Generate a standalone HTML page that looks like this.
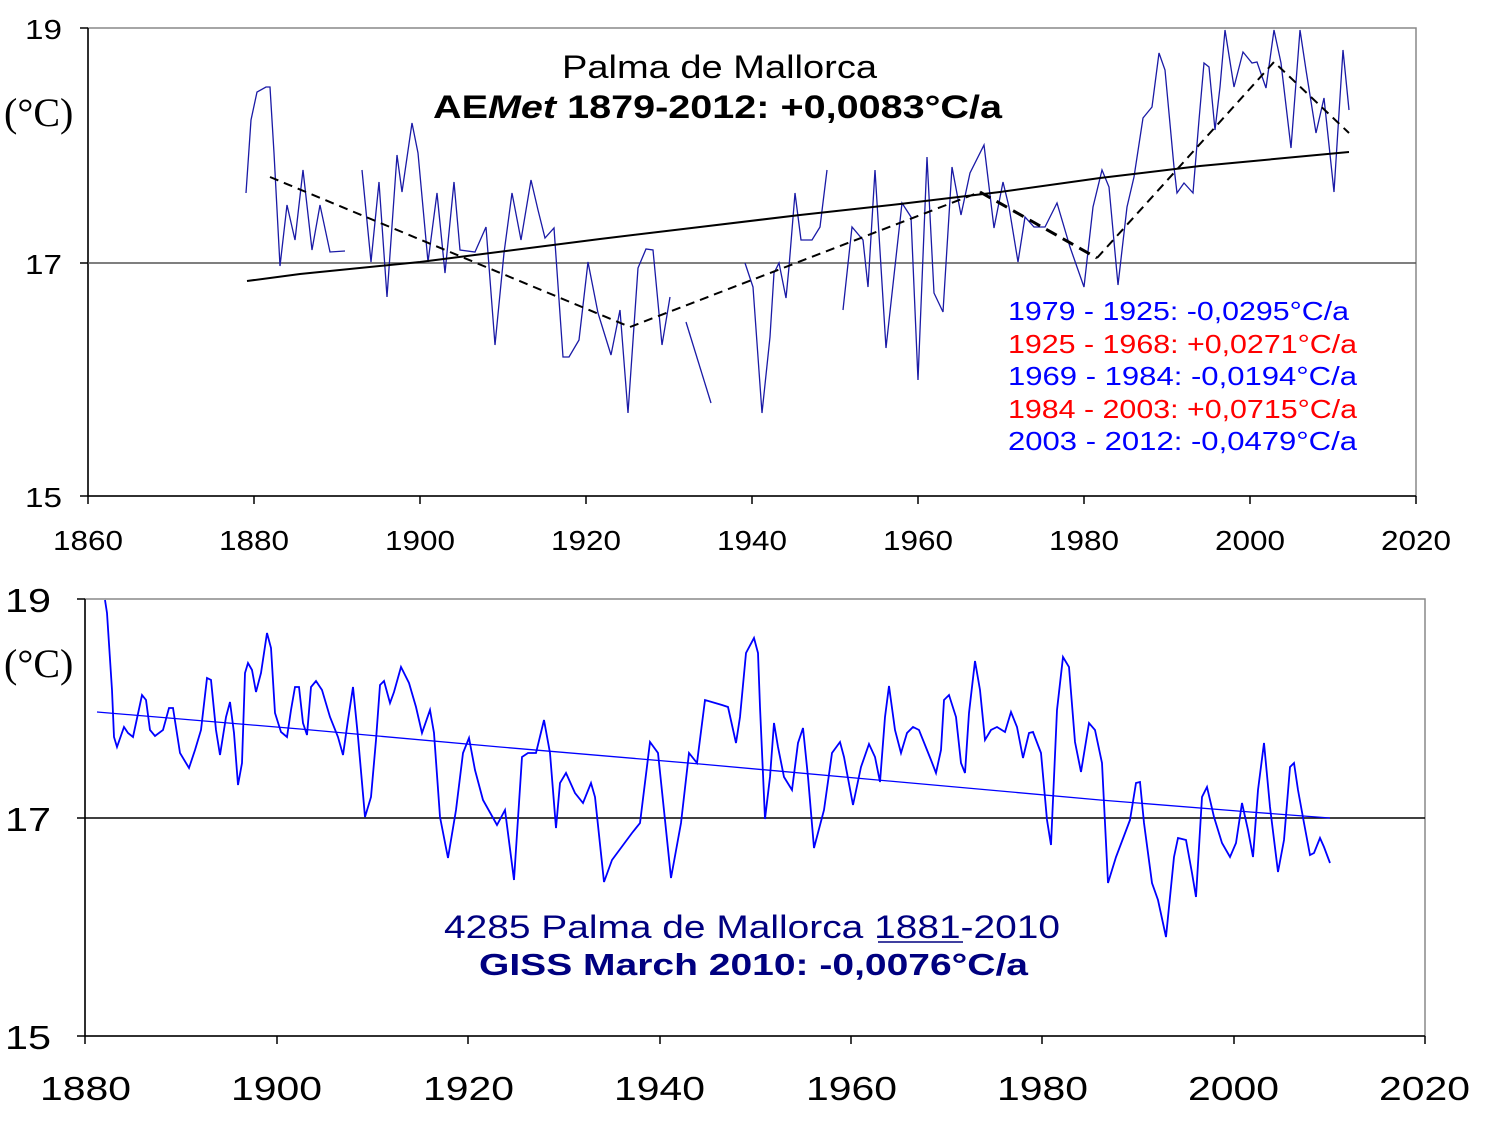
<!DOCTYPE html>
<html><head><meta charset="utf-8"><style>
html,body{margin:0;padding:0;background:#fff}
svg{display:block}
text{font-family:"Liberation Sans",sans-serif}
</style></head><body>
<svg width="1486" height="1125" viewBox="0 0 1486 1125" xmlns="http://www.w3.org/2000/svg">
<!-- TOP CHART -->
<rect x="88" y="28" width="1328" height="468" fill="none" stroke="#888" stroke-width="1.5"/>
<line x1="88" y1="28" x2="88" y2="496" stroke="#000" stroke-width="1.5"/>
<line x1="88" y1="496" x2="1416" y2="496" stroke="#000" stroke-width="1.5"/>
<line x1="88" y1="263" x2="1416" y2="263" stroke="#555" stroke-width="1.5"/>
<g stroke="#000" stroke-width="1.5">
<line x1="80" y1="28" x2="88" y2="28"/><line x1="80" y1="263" x2="88" y2="263"/><line x1="80" y1="496" x2="88" y2="496"/>
<line x1="88" y1="496" x2="88" y2="504"/><line x1="254" y1="496" x2="254" y2="504"/><line x1="420" y1="496" x2="420" y2="504"/><line x1="586" y1="496" x2="586" y2="504"/><line x1="752" y1="496" x2="752" y2="504"/><line x1="918" y1="496" x2="918" y2="504"/><line x1="1084" y1="496" x2="1084" y2="504"/><line x1="1250" y1="496" x2="1250" y2="504"/><line x1="1416" y1="496" x2="1416" y2="504"/>
</g>
<g font-size="28" lengthAdjust="spacingAndGlyphs">
<text x="25" y="39" textLength="37" lengthAdjust="spacingAndGlyphs">19</text>
<text x="25" y="274" textLength="37" lengthAdjust="spacingAndGlyphs">17</text>
<text x="25" y="507" textLength="37" lengthAdjust="spacingAndGlyphs">15</text></g>
<text x="4" y="126" font-size="40" style="font-family:'Liberation Serif',serif">(°C)</text>
<g font-size="28">
<text x="53" y="550" textLength="70" lengthAdjust="spacingAndGlyphs">1860</text>
<text x="219" y="550" textLength="70" lengthAdjust="spacingAndGlyphs">1880</text>
<text x="385" y="550" textLength="70" lengthAdjust="spacingAndGlyphs">1900</text>
<text x="551" y="550" textLength="70" lengthAdjust="spacingAndGlyphs">1920</text>
<text x="717" y="550" textLength="70" lengthAdjust="spacingAndGlyphs">1940</text>
<text x="883" y="550" textLength="70" lengthAdjust="spacingAndGlyphs">1960</text>
<text x="1049" y="550" textLength="70" lengthAdjust="spacingAndGlyphs">1980</text>
<text x="1215" y="550" textLength="70" lengthAdjust="spacingAndGlyphs">2000</text>
<text x="1381" y="550" textLength="70" lengthAdjust="spacingAndGlyphs">2020</text></g>
<g fill="none" stroke="#1a1aa6" stroke-width="1.3">
<polyline points="246,193 251,120 257,92 266,87 270,87 274,153 280,266 287,205 295,240 303,170 312,250 320,205 330,252 345,251"/>
<polyline points="362,170 371,262 379,182 387,297 397,155 402,192 412,123 418,153 428,262 437,193 445,273 454,182 460,250 475,252 486,227 495,345 504,253 512,193 521,240 531,180 538,210 545,238 554,228 563,357 569,357 579,340 588,262 598,313 611,355 620,310 628,413 638,268 646,249 653,250 662,345 670,297"/>
<polyline points="686,322 711,403"/>
<polyline points="745,263 753,287 762,413 770,337 774,273 779,263 786,298 789,267 795,193 801,240 812,240 820,227 827,170"/>
<polyline points="843,310 852,227 863,240 868,287 875,170 886,348 902,203 911,217 918,380 927,157 934,293 943,312 952,167 961,215 970,173 984,145 994,228 1003,182 1009,207 1018,262 1025,217 1034,227 1045,227 1057,203 1070,247 1084,287 1093,207 1102,170 1109,187 1118,285 1127,207 1134,177 1143,118 1152,107 1159,53 1165,70 1174,167 1177,193 1184,183 1193,193 1199,120 1204,63 1209,67 1215,130 1220,87 1225,30 1234,87 1243,52 1252,63 1257,62 1266,88 1274,30 1281,63 1291,148 1300,30 1306,70 1316,133 1324,98 1334,192 1343,50 1349,110"/>
</g>
<polyline points="247,281 300,274 420,262 600,239 700,227 800,215 900,204 1000,192 1100,178 1200,166 1349,152" fill="none" stroke="#000" stroke-width="2"/>
<polyline points="270,177 630,327 980,192" fill="none" stroke="#000" stroke-width="2" stroke-dasharray="9,6"/>
<polyline points="980,192 1097,258" fill="none" stroke="#000" stroke-width="3" stroke-dasharray="12,7"/>
<polyline points="1097,258 1274,62 1349,133" fill="none" stroke="#000" stroke-width="2" stroke-dasharray="9,6"/>
<text x="562" y="78" font-size="32" textLength="315" lengthAdjust="spacingAndGlyphs">Palma de Mallorca</text>
<text x="433" y="118" font-size="32" font-weight="bold" textLength="569" lengthAdjust="spacingAndGlyphs">AE<tspan font-style="italic">Met</tspan>  1879-2012: +0,0083°C/a</text>
<g font-size="26">
<text x="1008" y="320" fill="#0000ff" textLength="341" lengthAdjust="spacingAndGlyphs">1979 - 1925: -0,0295°C/a</text>
<text x="1008" y="353" fill="#ff0000" textLength="349" lengthAdjust="spacingAndGlyphs">1925 - 1968: +0,0271°C/a</text>
<text x="1008" y="385" fill="#0000ff" textLength="349" lengthAdjust="spacingAndGlyphs">1969 - 1984:  -0,0194°C/a</text>
<text x="1008" y="418" fill="#ff0000" textLength="349" lengthAdjust="spacingAndGlyphs">1984 - 2003: +0,0715°C/a</text>
<text x="1008" y="450" fill="#0000ff" textLength="349" lengthAdjust="spacingAndGlyphs">2003 - 2012:  -0,0479°C/a</text>
</g>
<!-- BOTTOM CHART -->
<rect x="85" y="599" width="1340" height="437" fill="none" stroke="#888" stroke-width="1.5"/>
<line x1="85" y1="599" x2="85" y2="1036" stroke="#000" stroke-width="1.5"/>
<line x1="85" y1="1036" x2="1425" y2="1036" stroke="#000" stroke-width="1.5"/>
<line x1="85" y1="818" x2="1425" y2="818" stroke="#000" stroke-width="1.5"/>
<g stroke="#000" stroke-width="1.5">
<line x1="77" y1="599" x2="85" y2="599"/><line x1="77" y1="818" x2="85" y2="818"/><line x1="77" y1="1036" x2="85" y2="1036"/>
<line x1="85" y1="1036" x2="85" y2="1044"/><line x1="277" y1="1036" x2="277" y2="1044"/><line x1="468" y1="1036" x2="468" y2="1044"/><line x1="660" y1="1036" x2="660" y2="1044"/><line x1="851" y1="1036" x2="851" y2="1044"/><line x1="1042" y1="1036" x2="1042" y2="1044"/><line x1="1234" y1="1036" x2="1234" y2="1044"/><line x1="1425" y1="1036" x2="1425" y2="1044"/>
</g>
<g font-size="33">
<text x="5" y="612" textLength="46" lengthAdjust="spacingAndGlyphs">19</text>
<text x="5" y="831" textLength="46" lengthAdjust="spacingAndGlyphs">17</text>
<text x="5" y="1049" textLength="46" lengthAdjust="spacingAndGlyphs">15</text></g>
<text x="4" y="677" font-size="40" style="font-family:'Liberation Serif',serif">(°C)</text>
<g font-size="33">
<text x="40" y="1100" textLength="91" lengthAdjust="spacingAndGlyphs">1880</text>
<text x="231" y="1100" textLength="91" lengthAdjust="spacingAndGlyphs">1900</text>
<text x="423" y="1100" textLength="91" lengthAdjust="spacingAndGlyphs">1920</text>
<text x="614" y="1100" textLength="91" lengthAdjust="spacingAndGlyphs">1940</text>
<text x="806" y="1100" textLength="91" lengthAdjust="spacingAndGlyphs">1960</text>
<text x="997" y="1100" textLength="91" lengthAdjust="spacingAndGlyphs">1980</text>
<text x="1188" y="1100" textLength="91" lengthAdjust="spacingAndGlyphs">2000</text>
<text x="1379" y="1100" textLength="91" lengthAdjust="spacingAndGlyphs">2020</text></g>
<polyline points="97,712 300,729 500,747 700,764 900,782 1100,800 1250,812 1330,818" fill="none" stroke="#0000ff" stroke-width="1.3"/>
<polyline fill="none" stroke="#0000ff" stroke-width="1.8" points="105,600 107,613 112,690 114,737 117,747 124,727 128,733 133,737 136,723 142,695 146,700 150,730 155,736 163,730 169,708 173,708 180,753 189,768 195,750 201,730 207,678 211,680 216,730 220,755 226,717 230,702 234,733 238,785 242,763 245,673 248,663 252,670 256,692 261,673 267,633 271,648 275,713 281,732 287,737 291,710 295,687 299,687 303,723 307,735 311,687 316,681 322,690 330,717 338,737 343,755 348,720 353,687 358,737 365,817 371,797 376,740 380,685 384,681 390,703 394,692 401,667 409,683 416,707 422,733 430,710 434,733 440,817 448,858 456,810 463,753 469,738 475,770 483,800 497,825 505,810 514,880 522,757 528,753 536,753 544,720 550,753 556,828 560,783 566,773 575,793 583,803 591,783 595,797 604,882 612,860 632,833 640,823 650,742 658,753 665,820 671,878 681,823 689,753 697,763 705,700 722,705 728,707 736,743 740,717 746,653 754,638 758,653 760,707 765,819 770,777 774,723 778,747 784,777 792,790 798,743 803,728 808,777 814,848 824,810 832,753 840,742 844,757 853,805 861,767 869,744 875,757 880,782 885,717 889,686 895,730 901,753 907,733 913,727 919,730 925,745 931,760 936,773 941,750 944,700 949,695 956,717 961,763 965,773 969,713 975,661 980,690 985,740 991,730 997,727 1005,732 1011,712 1017,727 1023,758 1029,733 1033,732 1041,753 1047,820 1051,845 1057,710 1063,657 1069,667 1075,742 1081,772 1089,723 1095,730 1102,763 1108,883 1116,857 1130,820 1136,783 1140,782 1144,823 1152,883 1158,900 1166,937 1174,857 1178,838 1186,840 1192,873 1196,897 1202,797 1207,787 1214,817 1222,843 1230,857 1236,843 1242,803 1248,830 1253,857 1258,790 1264,743 1270,807 1278,872 1284,840 1290,767 1294,763 1298,790 1304,823 1310,855 1314,853 1320,838 1324,847 1330,863"/>
<text x="444" y="938" font-size="32" fill="#000080" textLength="616" lengthAdjust="spacingAndGlyphs">4285  Palma de Mallorca  1881-2010</text>
<line x1="878" y1="942" x2="963" y2="942" stroke="#000080" stroke-width="1.5"/>
<text x="479" y="975" font-size="31" font-weight="bold" fill="#000080" textLength="549" lengthAdjust="spacingAndGlyphs">GISS  March 2010: -0,0076°C/a</text>
</svg>
</body></html>
